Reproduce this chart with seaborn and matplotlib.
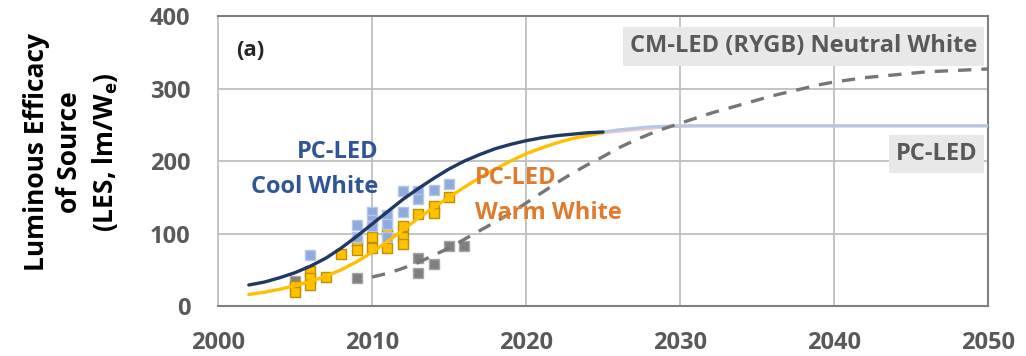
import numpy as np
import pandas as pd
import matplotlib
matplotlib.use("Agg")
import matplotlib.pyplot as plt
import seaborn as sns

# ---- measured source efficacy (lm/W) ----
cool_years = [2006, 2009, 2009, 2010, 2010, 2010, 2011, 2011, 2011,
              2012, 2012, 2013, 2013, 2014, 2015]
cool_vals = [70, 112, 95, 130, 118, 110, 125, 113, 95,
             158, 130, 158, 147, 160, 168]

warm_years = [2005, 2005, 2006, 2006, 2006, 2007, 2008, 2009, 2009,
              2010, 2010, 2011, 2011, 2012, 2012, 2012, 2013, 2014, 2014, 2015]
warm_vals = [28, 19, 48, 39, 29, 40, 72, 90, 77,
             95, 80, 102, 80, 110, 95, 85, 127, 138, 128, 150]

cm_years = [2005, 2009, 2013, 2013, 2014, 2015, 2016]
cm_vals = [35, 38, 66, 45, 58, 83, 83]

# ---- fitted trajectories ----
fit_years = list(range(2002, 2026))
cool_fit = [29, 33, 39, 46, 55, 66, 80, 96, 113, 130, 147, 162,
            176, 189, 200, 209, 217, 223, 228, 232, 235, 237, 239, 240]
warm_fit = [16, 19, 23, 28, 34, 41, 50, 61, 74, 89, 105, 121,
            136, 150, 164, 177, 189, 200, 210, 218, 225, 231, 235, 239]

proj_years = list(range(2025, 2051))
cool_proj = [240, 243, 245, 247, 248, 248.5] + [248.5] * 20
warm_proj = [239, 241, 243, 245, 247, 248] + [248.5] * 20

cm_fit_years = list(range(2010, 2051))
cm_fit = [40, 45, 52, 60, 70, 80, 92, 104, 116, 128, 142, 156, 170, 183,
          195, 206, 218, 228, 237, 245, 252, 259, 266, 272, 278, 284, 290,
          295, 300, 305, 309, 312, 315, 317, 319, 321, 323, 324, 325, 326, 327]

x_ticks = [2000, 2010, 2020, 2030, 2040, 2050]
y_ticks = [0, 100, 200, 300, 400]

sns.set_theme(style="white")
plt.rcParams["font.family"] = ["Open Sans", "DejaVu Sans"]
plt.rcParams["font.weight"] = "bold"
plt.rcParams["mathtext.fontset"] = "custom"
plt.rcParams["mathtext.rm"] = "Open Sans:bold"
plt.rcParams["mathtext.it"] = "Open Sans:bold"

TXT = "#595959"
NAVY = "#1F3864"
GOLD = "#FFC000"

fig = plt.figure(figsize=(10.26, 3.56), dpi=100)
ax = fig.add_axes([0.2125, 0.1404, 0.7505, 0.8146])

# grid
for xv in x_ticks[1:-1]:
    ax.axvline(xv, color="#BFBFBF", lw=1.3, zorder=0)
for yv in y_ticks[1:-1]:
    ax.axhline(yv, color="#BFBFBF", lw=1.3, zorder=0)

# measured points
sq = dict(marker="s", s=62, linewidth=1.0, legend=False, ax=ax, zorder=3)
sns.scatterplot(x=cm_years, y=cm_vals, color="#7F7F7F", edgecolor="#A6A6A6", **sq)
sns.scatterplot(x=warm_years, y=warm_vals, color=GOLD, edgecolor="#BF9000", **sq)
sns.scatterplot(x=cool_years, y=cool_vals, color="#8FAADC", edgecolor="#B4C7E7", **sq)

# trajectories
sns.lineplot(x=proj_years, y=warm_proj, color="#F4C7C3", lw=2.2, ax=ax, zorder=4)
sns.lineplot(x=proj_years, y=cool_proj, color="#B4C7E7", lw=2.2, ax=ax, zorder=4)
sns.lineplot(x=fit_years, y=warm_fit, color=GOLD, lw=2.4, ax=ax, zorder=5)
sns.lineplot(x=fit_years, y=cool_fit, color=NAVY, lw=2.4, ax=ax, zorder=5)
sns.lineplot(x=cm_fit_years, y=cm_fit, color="#767676", lw=2.4, ax=ax, zorder=5,
             dashes=False, linestyle=(0, (4, 3)))

ax.set_xlim(2000, 2050)
ax.set_ylim(0, 400)
ax.set_xticks(x_ticks)
ax.set_yticks(y_ticks)
ax.tick_params(axis="y", length=0, pad=20, labelsize=17, labelcolor=TXT)
ax.tick_params(axis="x", length=6, width=1.3, color="#BFBFBF", pad=12,
               labelsize=17, labelcolor=TXT, direction="out")
for lbl in ax.get_xticklabels() + ax.get_yticklabels():
    lbl.set_fontweight("bold")

for side in ["top", "right", "bottom"]:
    ax.spines[side].set_color("#7F7F7F")
    ax.spines[side].set_linewidth(1.5)
ax.spines["left"].set_color("#BFBFBF")
ax.spines["left"].set_linewidth(1.3)

ax.set_xlabel("")
ax.set_ylabel("")
fig.text(0.0697, 0.573, "Luminous Efficacy\nof Source\n(LES, lm/W$_\\mathrm{e}$)",
         rotation=90, ha="center", va="center", fontsize=19, fontweight="bold",
         color="black", linespacing=1.3)

ax.text(2001.2, 353, "(a)", fontsize=16, fontweight="bold", color="#262626",
        va="center", ha="left")

ax.text(2010.4, 188, "PC-LED\nCool White", fontsize=17, fontweight="bold",
        color="#2F5597", ha="right", va="center", linespacing=1.6, zorder=6)
ax.text(2016.7, 152, "PC-LED\nWarm White", fontsize=17, fontweight="bold",
        color="#E07A2C", ha="left", va="center", linespacing=1.6, zorder=6)

box = dict(boxstyle="square,pad=0.3", facecolor="#E8E8E8", edgecolor="none")
ax.text(2049.3, 358, "CM-LED (RYGB) Neutral White", fontsize=17, fontweight="bold",
        color=TXT, ha="right", va="center", bbox=box, zorder=6)
ax.text(2049.3, 210, "PC-LED", fontsize=17, fontweight="bold",
        color=TXT, ha="right", va="center", bbox=box, zorder=6)

fig.savefig("out.png", dpi=100)
